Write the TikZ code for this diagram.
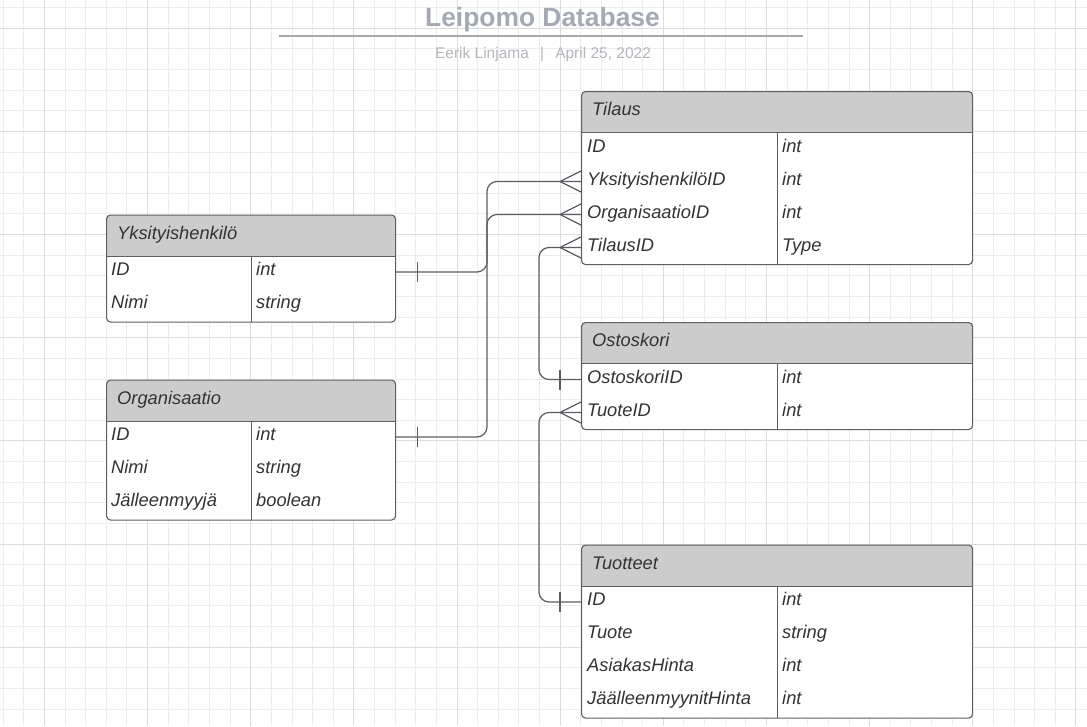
\documentclass[tikz,border=0pt]{standalone}
\usepackage{fontspec}
\setmainfont{Liberation Sans}
\definecolor{headgray}{HTML}{CCCCCC}
\definecolor{tblline}{HTML}{5F5F5F}
\definecolor{relline}{HTML}{5A5E64}
\definecolor{titlegray}{HTML}{A4AAB4}
\definecolor{subgray}{HTML}{B2B6BD}
\definecolor{gridminor}{HTML}{EDEDED}
\definecolor{gridmajor}{HTML}{DCDCDC}
\definecolor{celltext}{HTML}{333333}

\begin{document}
\begin{tikzpicture}[x=1pt, y=-1pt,
    erbox/.style={draw=tblline, line width=1.1pt, fill=white, rounded corners=4pt,
      anchor=north west, inner sep=0pt,
      path picture={
        \fill[headgray, sharp corners] (path picture bounding box.north west) rectangle ([yshift=-41pt]path picture bounding box.north east);
        \draw[tblline, line width=1.1pt, sharp corners] ([yshift=-41pt]path picture bounding box.north west) -- ([yshift=-41pt]path picture bounding box.north east)
          ([yshift=-41pt]path picture bounding box.north) -- (path picture bounding box.south);}},
    ertitle/.style={anchor=base west, inner sep=0pt, text=celltext, font=\itshape\fontsize{18.3}{22}\selectfont},
    cell/.style={anchor=west, inner sep=0pt, text height=12pt, text depth=5pt, text=celltext, font=\itshape\fontsize{18.3}{22}\selectfont},
    rel/.style={draw=relline, line width=1.2pt},
    crow/.pic={\draw[rel] (-21,0) -- (0,-10.5) (-21,0) -- (0,10.5);},
    one/.pic={\draw[rel] (21,-10) -- (21,10);}
  ]
  \useasboundingbox (0,0) rectangle (1087,726);
  \fill[white] (0,0) rectangle (1087,726);

  % grid
  \foreach \i in {0,...,52}
    \draw[gridminor, line width=1pt] (3.2+20.63*\i, 0) -- ++(0,726);
  \foreach \i in {0,...,34}
    \draw[gridminor, line width=1pt] (0, 7.67+20.63*\i) -- ++(1087,0);
  \foreach \i in {0,...,10}
    \draw[gridmajor, line width=1pt] (44.46+103.15*\i, 0) -- ++(0,726);
  \foreach \i in {0,...,6}
    \draw[gridmajor, line width=1pt] (0, 28.3+103.15*\i) -- ++(1087,0);

  % title
  \node[anchor=base, inner sep=0pt, text=titlegray, font=\bfseries\fontsize{26.4}{30}\selectfont] (title) at (542.5,26) {Leipomo Database};
  \draw[titlegray, line width=2pt] (279,36) -- (803,36);
  \node[anchor=base, inner sep=0pt, text=subgray, font=\fontsize{15.5}{19}\selectfont] (subtitle) at (543,58.3) {Eerik Linjama\hspace{0.72em}|\hspace{0.72em}April 25, 2022};

  % Tilaus
  \node[erbox, minimum width=391pt, minimum height=173pt] (tilaus) at (581,91) {};
  \node[ertitle] (tilaus-title) at (592,115.7) {Tilaus};
  \foreach \k/\t [count=\i] in {ID/int, YksityishenkilöID/int, OrganisaatioID/int, TilausID/Type} {
    \node[cell] (tilaus-\i) at (587, 115.5+33*\i) {\k};
    \node[cell] (tilaus-t\i) at (782, 115.5+33*\i) {\t};
  }

  % Yksityishenkilo
  \node[erbox, minimum width=289pt, minimum height=107pt] (yks) at (106,214.5) {};
  \node[ertitle] (yks-title) at (117,239.2) {Yksityishenkilö};
  \foreach \k/\t [count=\i] in {ID/int, Nimi/string} {
    \node[cell] (yks-\i) at (111, 239+33*\i) {\k};
    \node[cell] (yks-t\i) at (256, 239+33*\i) {\t};
  }

  % Organisaatio
  \node[erbox, minimum width=289pt, minimum height=140pt] (org) at (106,379.5) {};
  \node[ertitle] (org-title) at (117,404.2) {Organisaatio};
  \foreach \k/\t [count=\i] in {ID/int, Nimi/string, Jälleenmyyjä/boolean} {
    \node[cell] (org-\i) at (111, 404+33*\i) {\k};
    \node[cell] (org-t\i) at (256, 404+33*\i) {\t};
  }

  % Ostoskori
  \node[erbox, minimum width=391pt, minimum height=107pt] (osto) at (581,322) {};
  \node[ertitle] (osto-title) at (592,346.7) {Ostoskori};
  \foreach \k/\t [count=\i] in {OstoskoriID/int, TuoteID/int} {
    \node[cell] (osto-\i) at (587, 346.5+33*\i) {\k};
    \node[cell] (osto-t\i) at (782, 346.5+33*\i) {\t};
  }

  % Tuotteet
  \node[erbox, minimum width=391pt, minimum height=173pt] (tuot) at (581,544.5) {};
  \node[ertitle] (tuot-title) at (592,569.2) {Tuotteet};
  \foreach \k/\t [count=\i] in {ID/int, Tuote/string, AsiakasHinta/int, JäälleenmyynitHinta/int} {
    \node[cell] (tuot-\i) at (587, 569+33*\i) {\k};
    \node[cell] (tuot-t\i) at (782, 569+33*\i) {\t};
  }

  % relations
  \coordinate (busa) at (487,0);
  \coordinate (busb) at (539,0);
  \draw[rel, rounded corners=10pt] (yks-1 -| yks.east) -| (busa |- tilaus-2) -- (tilaus-2 -| tilaus.west);
  \draw[rel, rounded corners=10pt] (org-1 -| org.east) -| (busa |- tilaus-3) -- (tilaus-3 -| tilaus.west);
  \draw[rel, rounded corners=10pt] (tilaus-4 -| tilaus.west) -| (busb |- osto-1) -- (osto-1 -| osto.west);
  \draw[rel, rounded corners=10pt] (osto-2 -| osto.west) -| (busb |- tuot-1) -- (tuot-1 -| tuot.west);
  \pic at (yks-1 -| yks.east) {one};
  \pic at (org-1 -| org.east) {one};
  \pic[xscale=-1] at (osto-1 -| osto.west) {one};
  \pic[xscale=-1] at (tuot-1 -| tuot.west) {one};
  \pic at (tilaus-2 -| tilaus.west) {crow};
  \pic at (tilaus-3 -| tilaus.west) {crow};
  \pic at (tilaus-4 -| tilaus.west) {crow};
  \pic at (osto-2 -| osto.west) {crow};
\end{tikzpicture}
\end{document}
